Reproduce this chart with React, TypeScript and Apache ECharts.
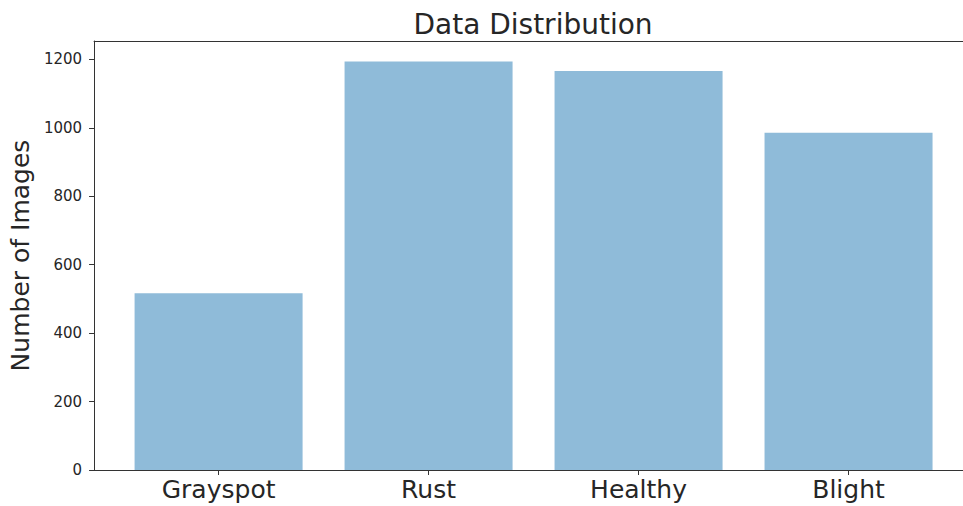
import React, { useEffect, useRef } from "react";
import * as echarts from "echarts";

const categories = ["Grayspot", "Rust", "Healthy", "Blight"];
const counts = [517, 1194, 1166, 986];
const yTicks = [0, 200, 400, 600, 800, 1000, 1200];

const FONT = "DejaVu Sans";

export default function App() {
  const ref = useRef<HTMLDivElement>(null);
  useEffect(() => {
    if (!ref.current) return;
    const chart = echarts.init(ref.current, undefined, { renderer: "svg" });
    const gridLeft = 94;
    const gridWidth = 869;
    const pxPerUnit = 210;
    const xMin = -0.593;
    const xMax = xMin + gridWidth / pxPerUnit;
    const barWidth = 0.8 * pxPerUnit;
    const spine = { show: true, onZero: false, lineStyle: { color: "#333", width: 1 } };
    chart.setOption({
      animation: false,
      backgroundColor: "#ffffff",
      title: {
        text: "Data Distribution",
        left: 528,
        textAlign: "center",
        top: 5,
        textStyle: { fontFamily: FONT, fontSize: 28, fontWeight: "normal", color: "#262626" },
      },
      grid: {
        left: gridLeft,
        top: 41,
        width: gridWidth,
        bottom: 36,
        show: false,
      },
      xAxis: [
        {
          type: "value",
          min: xMin,
          max: xMax,
          splitLine: { show: false },
          axisLine: spine,
          axisTick: { show: true, customValues: [0, 1, 2, 3], length: 5, lineStyle: { color: "#333" } },
          axisLabel: {
            customValues: [0, 1, 2, 3],
            formatter: (v: number) => categories[Math.round(v)] ?? "",
            fontFamily: FONT,
            fontSize: 25,
            color: "#262626",
            margin: 7,
          },
        },
        {
          type: "value",
          position: "top",
          min: xMin,
          max: xMax,
          splitLine: { show: false },
          axisLine: spine,
          axisTick: { show: false },
          axisLabel: { show: false },
        },
      ],
      yAxis: {
        type: "value",
        min: 0,
        max: 1254,
        interval: 200,
        name: "Number of Images",
        nameLocation: "middle",
        nameGap: 60,
        nameTextStyle: { fontFamily: FONT, fontSize: 25, color: "#262626" },
        splitLine: { show: false },
        axisLine: spine,
        axisTick: { show: true, length: 5, lineStyle: { color: "#333" } },
        axisLabel: {
          fontFamily: FONT,
          fontSize: 15,
          color: "#262626",
          margin: 12,
          showMaxLabel: false,
          formatter: (v: number) => (yTicks.includes(v) ? String(v) : ""),
        },
      },
      series: [
        {
          type: "bar",
          xAxisIndex: 0,
          data: counts.map((c, i) => [i, c]),
          barWidth,
          itemStyle: { color: "#1f77b4", opacity: 0.5 },
        },
      ],
    });
    return () => chart.dispose();
  }, []);
  return (
    <div
      ref={ref}
      style={{ position: "fixed", left: 0, top: 0, width: 963, height: 506, overflow: "hidden" }}
    />
  );
}
